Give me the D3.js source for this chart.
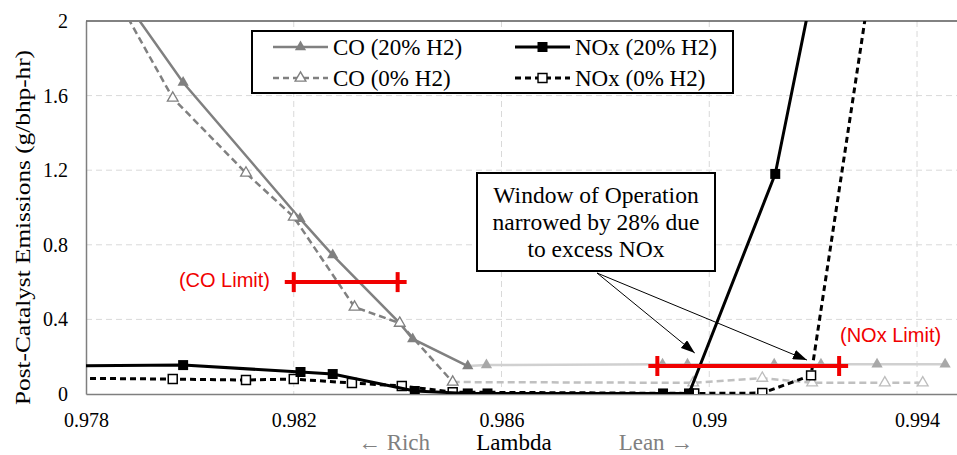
<!DOCTYPE html>
<html><head><meta charset="utf-8">
<script src="https://cdn.jsdelivr.net/npm/d3@7"></script>
<style>body{margin:0;background:#fff}text{font-family:"Liberation Serif","Times New Roman",serif}</style>
</head><body><svg id="c" width="957" height="455"></svg>
<script>
// ---- data ----
const co20Lambda  = [0.9785, 0.97987, 0.98212, 0.98275, 0.98404, 0.98429, 0.98535, 0.98571, 0.9891, 0.98958, 0.99125, 0.99215, 0.99323, 0.99454];
const co20Values  = [2.21, 1.67, 0.94, 0.745, 0.38, 0.295, 0.15, 0.155, 0.16, 0.16, 0.16, 0.16, 0.16, 0.16];
const co0Lambda   = [0.9785, 0.97967, 0.98108, 0.982, 0.98317, 0.98404, 0.98506, 0.98969, 0.99102, 0.99198, 0.99338, 0.99411];
const co0Values   = [2.17, 1.587, 1.185, 0.949, 0.466, 0.38, 0.064, 0.06, 0.085, 0.06, 0.06, 0.06];
const nox20Lambda = [0.9775, 0.97987, 0.98213, 0.98275, 0.98433, 0.98535, 0.98573, 0.98911, 0.98961, 0.99127, 0.9922];
const nox20Values = [0.15, 0.155, 0.118, 0.107, 0.016, 0.003, 0.003, 0.003, 0.003, 1.18, 2.46];
const nox0Lambda  = [0.9775, 0.97967, 0.98108, 0.982, 0.98312, 0.98408, 0.98506, 0.98971, 0.99102, 0.99196, 0.9932];
const nox0Values  = [0.085, 0.08, 0.075, 0.08, 0.059, 0.043, 0.01, 0.003, 0.005, 0.1, 2.38];
const seriesNames = ["CO (20% H2)", "NOx (20% H2)", "CO (0% H2)", "NOx (0% H2)"];
const xTicks = [0.978, 0.982, 0.986, 0.99, 0.994];
const xTickLabels = ["0.978", "0.982", "0.986", "0.99", "0.994"];
const yTicks = [0, 0.4, 0.8, 1.2, 1.6, 2];
const yTickLabels = ["0", "0.4", "0.8", "1.2", "1.6", "2"];
const limitNames = ["(CO Limit)", "(NOx Limit)"];
const limitValues = [0.6, 0.15];
const limitFrom = [0.982, 0.989];
const limitTo = [0.984, 0.9925];
const annotationLines = ["Window of Operation", "narrowed by 28% due", "to excess NOx"];
const arrowTargetsLambda = [0.98972, 0.99188];
const arrowTargetsValue = [0.22, 0.182];

// ---- layout ----
const svg = d3.select("#c");
const L = 86, T = 21, B = 394;
const x = d3.scaleLinear().domain([0.978, 0.995]).range([L, L + 17 * 51.94]);
const y = d3.scaleLinear().domain([0, 2]).range([B, T]);
const R = x.range()[1];
const fadeFrom = 0.9854;

svg.append("defs").append("clipPath").attr("id", "clip")
  .append("rect").attr("x", L).attr("y", T).attr("width", R - L).attr("height", B - T);
const mk = svg.select("defs").append("marker").attr("id", "arr")
  .attr("viewBox", "0 0 14 10").attr("refX", 14).attr("refY", 5)
  .attr("markerWidth", 14).attr("markerHeight", 10).attr("markerUnits", "userSpaceOnUse")
  .attr("orient", "auto");
mk.append("path").attr("d", "M0,0 L14,5 L0,10 z").attr("fill", "#000");

// gridlines
const grid = svg.append("g");
grid.selectAll(".gy").data(yTicks.filter(v => v > 0 && v < 2)).join("line")
  .attr("x1", L).attr("x2", R).attr("y1", d => y(d)).attr("y2", d => y(d))
  .attr("stroke", "#d9d9d9").attr("stroke-width", 1).attr("stroke-dasharray", "6,4");
grid.selectAll(".gx").data(xTicks.filter(v => v > 0.978)).join("line")
  .attr("y1", T).attr("y2", B).attr("x1", d => x(d)).attr("x2", d => x(d))
  .attr("stroke", "#d9d9d9").attr("stroke-width", 1).attr("stroke-dasharray", "6,4");

// axes
const yAxis = svg.append("g").attr("transform", `translate(${L},0)`)
  .call(d3.axisLeft(y).tickValues(yTicks).tickFormat((d, i) => yTickLabels[i]).tickSize(0).tickPadding(18));
yAxis.select(".domain").attr("stroke", "#7f7f7f").attr("stroke-width", 1.5);
yAxis.selectAll("text").attr("font-size", 20).attr("fill", "#000");
const xAxis = svg.append("g").attr("transform", `translate(0,${B})`)
  .call(d3.axisBottom(x).tickValues(xTicks).tickFormat((d, i) => xTickLabels[i]).tickSize(0).tickPadding(19));
xAxis.select(".domain").attr("stroke", "#7f7f7f").attr("stroke-width", 1.5);
xAxis.selectAll("text").attr("font-size", 20).attr("fill", "#000");
svg.append("line").attr("x1", L).attr("x2", R).attr("y1", T).attr("y2", T)
  .attr("stroke", "#595959").attr("stroke-width", 1.5);

// titles
svg.append("text").attr("transform", `translate(30,${(T + B) / 2 + 20}) rotate(-90)`)
  .attr("text-anchor", "middle").attr("font-size", 22)
  .attr("textLength", 355).attr("lengthAdjust", "spacingAndGlyphs")
  .text("Post-Catalyst Emissions (g/bhp-hr)");
svg.append("text").attr("x", 514).attr("y", 450).attr("text-anchor", "middle").attr("font-size", 23).text("Lambda");
svg.append("text").attr("x", 394).attr("y", 450).attr("text-anchor", "middle").attr("font-size", 23).attr("fill", "#808080").text("← Rich");
svg.append("text").attr("x", 656).attr("y", 450).attr("text-anchor", "middle").attr("font-size", 23).attr("fill", "#808080").text("Lean →");

const plot = svg.append("g").attr("clip-path", "url(#clip)");
const line = d3.line().x(d => x(d[0])).y(d => y(d[1]));
const zip = (a, b) => a.map((v, i) => [v, b[i]]);
const tri = d3.symbol().type(d3.symbolTriangle);
const sq = d3.symbol().type(d3.symbolSquare);

function coSeries(lam, vals, opts) {
  const pts = zip(lam, vals);
  const lastDark = pts.filter(p => p[0] <= fadeFrom).length - 1;
  const dark = pts.slice(0, lastDark + 1), light = pts.slice(lastDark);
  plot.append("path").datum(light).attr("d", line).attr("fill", "none")
    .attr("stroke", opts.lightLine).attr("stroke-width", 2.5).attr("stroke-dasharray", opts.dash);
  plot.append("path").datum(dark).attr("d", line).attr("fill", "none")
    .attr("stroke", "#808080").attr("stroke-width", 2.5).attr("stroke-dasharray", opts.dash);
  plot.selectAll(null).data(pts).join("path")
    .attr("d", tri.size(opts.size)())
    .attr("transform", d => `translate(${x(d[0])},${y(d[1])})`)
    .attr("fill", (d, i) => opts.open ? "#fff" : (i > lastDark ? opts.lightMark : "#808080"))
    .attr("stroke", (d, i) => opts.open ? (i > lastDark ? opts.lightMark : "#808080") : "none")
    .attr("stroke-width", 1.3);
}
coSeries(co20Lambda, co20Values, { dash: null, lightLine: "#d0d0d0", lightMark: "#a8a8a8", open: false, size: 55 });
coSeries(co0Lambda, co0Values, { dash: "7,4", lightLine: "#c0c0c0", lightMark: "#bdbdbd", open: true, size: 50 });

// limits
limitValues.forEach((v, i) => {
  const g = svg.append("g").attr("stroke", "#f00000").attr("stroke-width", 4);
  g.append("line").attr("x1", x(limitFrom[i]) - 9).attr("x2", x(limitTo[i]) + 9).attr("y1", y(v)).attr("y2", y(v));
  [limitFrom[i], limitTo[i]].forEach(lv => g.append("line").attr("x1", x(lv)).attr("x2", x(lv)).attr("y1", y(v) - 10).attr("y2", y(v) + 10));
});
svg.append("text").attr("x", 270).attr("y", 287).attr("text-anchor", "end").attr("font-size", 20)
  .style("font-family", "'Liberation Sans',Arial,sans-serif").attr("fill", "#f00000").text(limitNames[0]);
svg.append("text").attr("x", 840).attr("y", 342).attr("font-size", 20)
  .style("font-family", "'Liberation Sans',Arial,sans-serif").attr("fill", "#f00000").text(limitNames[1]);

// NOx series
function noxSeries(lam, vals, opts) {
  const pts = zip(lam, vals);
  plot.append("path").datum(pts).attr("d", line).attr("fill", "none")
    .attr("stroke", "#000").attr("stroke-width", 3).attr("stroke-dasharray", opts.dash);
  plot.selectAll(null).data(pts).join("path")
    .attr("d", sq.size(opts.size)())
    .attr("transform", d => `translate(${x(d[0])},${y(d[1])})`)
    .attr("fill", opts.open ? "#fff" : "#000").attr("stroke", "#000").attr("stroke-width", opts.open ? 1.5 : 0);
}
noxSeries(nox0Lambda, nox0Values, { dash: "6,4", open: true, size: 80 });
noxSeries(nox20Lambda, nox20Values, { dash: null, open: false, size: 100 });

// annotation
svg.append("rect").attr("x", 477).attr("y", 173).attr("width", 238).attr("height", 98)
  .attr("fill", "#fff").attr("stroke", "#000").attr("stroke-width", 2);
annotationLines.forEach((t, i) => svg.append("text").attr("x", 596).attr("y", 203 + i * 27)
  .attr("text-anchor", "middle").attr("font-size", 23.5).text(t));
arrowTargetsLambda.forEach((lv, i) => svg.append("line").attr("x1", 597).attr("y1", 273)
  .attr("x2", x(lv)).attr("y2", y(arrowTargetsValue[i]))
  .attr("stroke", "#000").attr("stroke-width", 1).attr("marker-end", "url(#arr)"));

// legend
const lg = svg.append("g");
lg.append("rect").attr("x", 252).attr("y", 31).attr("width", 481).attr("height", 62)
  .attr("fill", "#fff").attr("stroke", "#000").attr("stroke-width", 2);
const legendItems = [
  { name: seriesNames[0], col: 0, row: 0, color: "#808080", dash: null, shape: tri, open: false, size: 55, w: 2.5 },
  { name: seriesNames[1], col: 1, row: 0, color: "#000", dash: null, shape: sq, open: false, size: 100, w: 3 },
  { name: seriesNames[2], col: 0, row: 1, color: "#808080", dash: "6,4", shape: tri, open: true, size: 50, w: 2.5 },
  { name: seriesNames[3], col: 1, row: 1, color: "#000", dash: "6,4", shape: sq, open: true, size: 80, w: 3 }
];
legendItems.forEach(it => {
  const x0 = it.col ? 515 : 273, yy = it.row ? 78 : 47;
  lg.append("line").attr("x1", x0).attr("x2", x0 + 55).attr("y1", yy).attr("y2", yy)
    .attr("stroke", it.color).attr("stroke-width", it.w).attr("stroke-dasharray", it.dash);
  lg.append("path").attr("d", it.shape.size(it.size)()).attr("transform", `translate(${x0 + 27.5},${yy})`)
    .attr("fill", it.open ? "#fff" : it.color).attr("stroke", it.color).attr("stroke-width", it.open ? 1.4 : 0);
  lg.append("text").attr("x", x0 + 60).attr("y", yy + 8).attr("font-size", 23).text(it.name);
});
</script></body></html>
